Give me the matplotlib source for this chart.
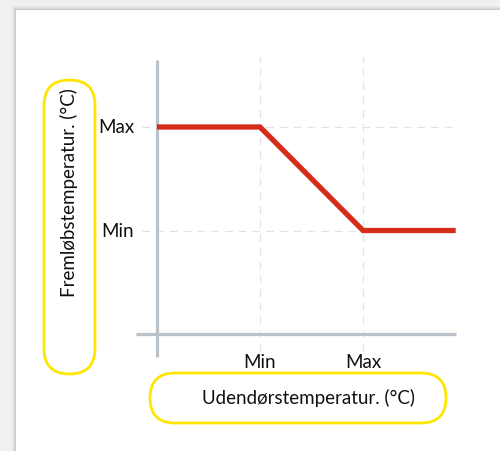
import matplotlib.pyplot as plt
from matplotlib.patches import FancyBboxPatch, Rectangle
from matplotlib.transforms import IdentityTransform

plt.rcParams['font.family'] = ['Lato', 'DejaVu Sans']

# data (Min = 1, Max = 2 on both axes)
outdoor = [0, 1, 2, 2.9]
flow = [2, 2, 1, 1]
x_ticks = [1, 2]
x_labels = ['Min', 'Max']
y_ticks = [1, 2]
y_labels = ['Min', 'Max']
x_title = 'Udendørstemperatur. (°C)'
y_title = 'Fremløbstemperatur. (°C)'

W, H = 500, 452
fig = plt.figure(figsize=(W / 100, H / 100), dpi=100)
fig.patch.set_facecolor('#f0f0f0')

# card with soft shadow
for i, a in enumerate([0.025, 0.035, 0.045, 0.055]):
    d = 4 - i
    fig.patches.append(Rectangle(((16 - d) / W, 0), 1, (H - 11 + d) / H,
                                 transform=fig.transFigure, facecolor='black',
                                 alpha=a, edgecolor='none', zorder=0))
fig.patches.append(Rectangle((16 / W, 0), 1, (H - 11) / H, transform=fig.transFigure,
                             facecolor='white', edgecolor='none', zorder=1))

# axes placed so that x=0 -> px 157, y=0 -> px 335
ppx, ppy = 103.0, 103.5
left, right, top, bottom = 130, 470, 50, 365
ax = fig.add_axes([left / W, 1 - bottom / H, (right - left) / W, (bottom - top) / H])
ax.set_xlim((left - 157) / ppx, (right - 157) / ppx)
ax.set_ylim(-(bottom - 335) / ppy, (335 - top) / ppy)
ax.set_facecolor('none')
ax.set_zorder(3)
for s in ax.spines.values():
    s.set_visible(False)
ax.set_xticks([])
ax.set_yticks([])

grid = '#dfe3e8'
for xv in x_ticks:
    ax.plot([xv, xv], [-0.16, 2.68], color=grid, lw=0.9, ls=(0, (6, 5)), zorder=1)
for yv in y_ticks:
    ax.plot([-0.15, 2.92], [yv, yv], color=grid, lw=0.9, ls=(0, (6, 5)), zorder=1)

axis_c = '#b9c1c9'
ax.plot([-0.2, 2.9], [0, 0], color=axis_c, lw=2.3, solid_capstyle='butt', zorder=2)
ax.plot([0, 0], [-0.22, 2.65], color=axis_c, lw=2.3, solid_capstyle='butt', zorder=2)

ax.plot(outdoor, flow, color='#d42d1a', lw=3.8, solid_joinstyle='miter',
        solid_capstyle='butt', zorder=3)

for xv, lab in zip(x_ticks, x_labels):
    ax.text(xv, -0.27, lab, ha='center', va='center', fontsize=13.5,
            color='#111111', clip_on=False)
for yv, lab in zip(y_ticks, y_labels):
    ax.text(-0.22, yv, lab, ha='right', va='center', fontsize=13.5, color='#111111')

# yellow rounded label boxes, drawn in pixel coordinates
def pill(x0, y0, x1, y1):
    r = min(x1 - x0, y1 - y0) / 2
    fig.patches.append(FancyBboxPatch((x0, H - y1), x1 - x0, y1 - y0,
                                      boxstyle=f'round,pad=0,rounding_size={r}',
                                      transform=IdentityTransform(), facecolor='none',
                                      edgecolor='#ffe600', lw=2, zorder=2))

pill(44, 81, 95, 375)
pill(150, 374, 446, 424)
fig.text(69 / W, 1 - 193 / H, y_title, rotation=90, ha='center', va='center',
         fontsize=13.5, color='#111111', zorder=5)
fig.text(309 / W, 1 - 398 / H, x_title, ha='center', va='center',
         fontsize=13.5, color='#111111', zorder=5)

fig.savefig('out.png', dpi=100)
